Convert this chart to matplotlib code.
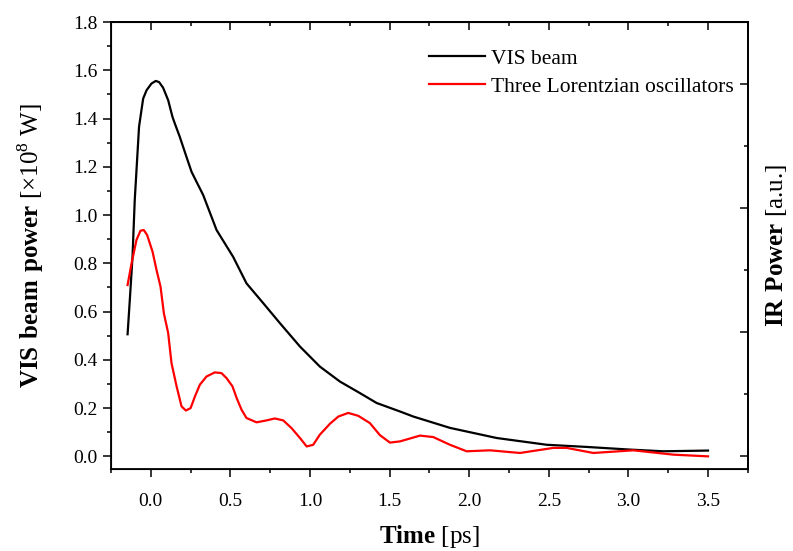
import matplotlib
matplotlib.use("Agg")
import matplotlib.pyplot as plt
from matplotlib.ticker import MultipleLocator, NullFormatter

plt.rcParams['font.family'] = ['Liberation Serif', 'DejaVu Serif']
plt.rcParams['mathtext.fontset'] = 'custom'
plt.rcParams['mathtext.rm'] = 'Liberation Serif'
plt.rcParams['mathtext.bf'] = 'Liberation Serif:bold'

# VIS beam
vis_t = [-0.146, -0.132, -0.115, -0.101, -0.074, -0.059, -0.048, -0.027, 0.004, 0.031,
         0.052, 0.077, 0.109, 0.136, 0.151, 0.182, 0.224, 0.256, 0.287, 0.329,
         0.413, 0.517, 0.601, 0.706, 0.811, 0.937, 1.062, 1.188, 1.314, 1.419,
         1.565, 1.649, 1.879, 2.173, 2.487, 2.739, 3.011, 3.218, 3.5]
vis_p = [0.506, 0.648, 0.827, 1.062, 1.366, 1.434, 1.483, 1.517, 1.545, 1.556,
         1.551, 1.528, 1.476, 1.407, 1.379, 1.324, 1.241, 1.179, 1.138, 1.083,
         0.938, 0.827, 0.717, 0.635, 0.552, 0.455, 0.372, 0.310, 0.262, 0.221,
         0.186, 0.165, 0.118, 0.076, 0.048, 0.039, 0.028, 0.021, 0.024]

# Three Lorentzian oscillators
ir_t = [-0.146, -0.121, -0.090, -0.065, -0.044, -0.023, 0.011, 0.036, 0.061, 0.082,
        0.109, 0.130, 0.162, 0.193, 0.220, 0.250, 0.277, 0.308, 0.350, 0.402,
        0.444, 0.476, 0.513, 0.539, 0.570, 0.601, 0.664, 0.727, 0.779, 0.832,
        0.884, 0.937, 0.979, 1.020, 1.062, 1.125, 1.178, 1.240, 1.303, 1.376,
        1.439, 1.502, 1.565, 1.691, 1.774, 1.879, 1.984, 2.131, 2.319, 2.528,
        2.612, 2.780, 3.031, 3.283, 3.5]
ir_p = [0.710, 0.800, 0.897, 0.935, 0.938, 0.917, 0.848, 0.772, 0.703, 0.593,
        0.511, 0.386, 0.290, 0.207, 0.190, 0.200, 0.248, 0.297, 0.331, 0.348,
        0.345, 0.324, 0.290, 0.242, 0.193, 0.159, 0.141, 0.149, 0.157, 0.149,
        0.117, 0.076, 0.041, 0.048, 0.090, 0.135, 0.165, 0.180, 0.168, 0.138,
        0.088, 0.057, 0.062, 0.086, 0.080, 0.048, 0.021, 0.025, 0.014, 0.035,
        0.035, 0.014, 0.025, 0.007, 0.0]

fig = plt.figure(figsize=(7.93, 5.51), dpi=100)
ax = fig.add_axes([0.140, 0.149, 0.803, 0.811])

ax.plot(vis_t, vis_p, color='black', lw=1.6, label='VIS beam')
ax.plot(ir_t, ir_p, color='red', lw=1.6, label='Three Lorentzian oscillators')

ax.set_xlim(-0.25, 3.75)
ax.set_ylim(-0.052, 1.8)
ax.xaxis.set_major_locator(MultipleLocator(0.5))
ax.xaxis.set_minor_locator(MultipleLocator(0.25))
ax.yaxis.set_major_locator(MultipleLocator(0.2))
ax.yaxis.set_minor_locator(MultipleLocator(0.1))
ax.xaxis.set_major_formatter(lambda v, p: f"{v:.1f}")
ax.yaxis.set_major_formatter(lambda v, p: f"{v:.1f}")
ax.tick_params(which='major', direction='out', length=6, width=1.1, labelsize=14)
ax.tick_params(which='minor', direction='out', length=3, width=1.1)
ax.tick_params(axis='x', pad=11)
for s in ax.spines.values():
    s.set_linewidth(1.3)

# top ticks pointing in
top = ax.secondary_xaxis('top')
top.xaxis.set_major_locator(MultipleLocator(0.5))
top.xaxis.set_minor_locator(MultipleLocator(0.25))
top.xaxis.set_major_formatter(NullFormatter())
top.tick_params(which='major', direction='in', length=6, width=1.1)
top.tick_params(which='minor', direction='in', length=3, width=1.1)
top.spines['top'].set_linewidth(1.3)

# right axis (IR power, no tick labels)
ax2 = ax.twinx()
ax2.set_ylim(-0.1, 3.5)
ax2.yaxis.set_major_locator(MultipleLocator(1))
ax2.yaxis.set_minor_locator(MultipleLocator(0.5))
ax2.yaxis.set_major_formatter(NullFormatter())
ax2.tick_params(which='major', direction='in', length=6, width=1.1)
ax2.tick_params(which='minor', direction='in', length=3, width=1.1)
ax2.spines['right'].set_linewidth(1.3)

ax.set_xlabel(r"$\mathbf{Time}$ [ps]", fontsize=18, labelpad=10)
ax.set_ylabel(r"$\mathbf{VIS\ beam\ power}$ [$\times$10$^8$ W]", fontsize=18, labelpad=20)
ax2.set_ylabel(r"$\mathbf{IR\ Power}$ [a.u.]", fontsize=18, labelpad=8)

ax.legend(loc='upper left', bbox_to_anchor=(0.499, 0.94), frameon=False,
          fontsize=15.5, handlelength=2.6, handletextpad=0.3, labelspacing=0.35,
          borderpad=0, borderaxespad=0)

fig.savefig('out.png', dpi=100)
